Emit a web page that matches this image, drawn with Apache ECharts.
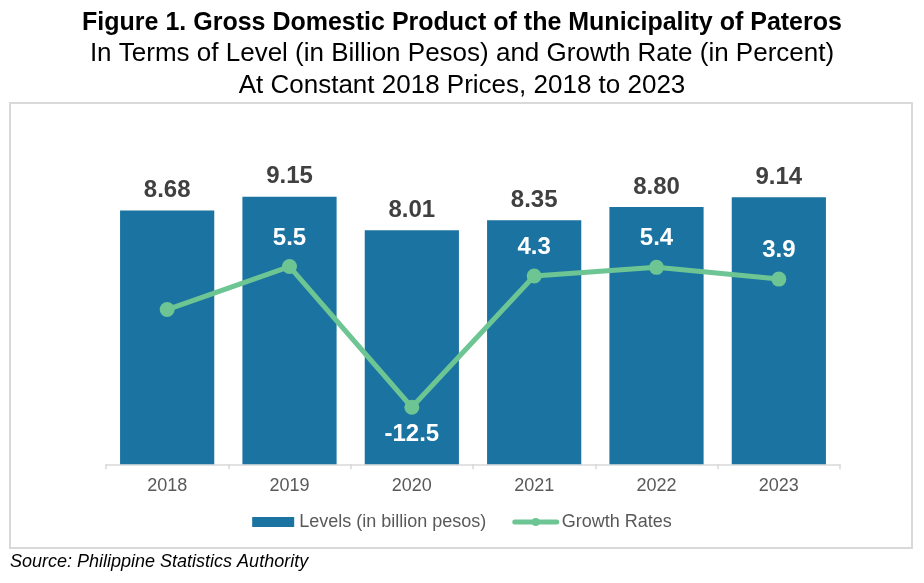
<!DOCTYPE html>
<html>
<head>
<meta charset="utf-8">
<script src="https://cdn.jsdelivr.net/npm/echarts@6/dist/echarts.min.js"></script>
<style>
html,body{margin:0;padding:0;background:#fff;}
#c{width:924px;height:583px;}
</style>
</head>
<body>
<div id="c"></div>
<script>
var years = ['2018', '2019', '2020', '2021', '2022', '2023'];
var levels = [8.68, 9.15, 8.01, 8.35, 8.80, 9.14];
var growth = [0, 5.5, -12.5, 4.3, 5.4, 3.9];
var showGrowthLabel = [false, true, true, true, true, true];

var FONT = '"Liberation Sans", Arial, sans-serif';
var chart = echarts.init(document.getElementById('c'), null, {renderer: 'canvas'});

var growthData = growth.map(function (v, i) {
  var item = {value: v};
  if (!showGrowthLabel[i]) {
    item.label = {show: false};
  } else if (v < 0) {
    item.label = {position: 'bottom', distance: 8};
  }
  return item;
});

chart.setOption({
  animation: false,
  backgroundColor: '#ffffff',
  title: [
    {text: 'Figure 1. Gross Domestic Product of the Municipality of Pateros', left: 'center', top: 6,
     textStyle: {fontFamily: FONT, fontSize: 25, fontWeight: 'bold', color: '#000'}},
    {text: 'In Terms of Level (in Billion Pesos) and Growth Rate (in Percent)', left: 'center', top: 36,
     textStyle: {fontFamily: FONT, fontSize: 26, fontWeight: 'normal', color: '#000'}},
    {text: 'At Constant 2018 Prices, 2018 to 2023', left: 'center', top: 68,
     textStyle: {fontFamily: FONT, fontSize: 26, fontWeight: 'normal', color: '#000'}}
  ],
  graphic: [
    {type: 'rect', shape: {x: 10, y: 103, width: 902, height: 445},
     style: {fill: 'none', stroke: '#d9d9d9', lineWidth: 2}, z: -1},
    {type: 'text', left: 10, top: 553,
     style: {text: 'Source: Philippine Statistics Authority', font: 'italic 18px ' + FONT, fill: '#000'}}
  ],
  legend: {
    left: 'center', top: 508,
    itemWidth: 42, itemHeight: 10, itemGap: 26,
    textStyle: {fontFamily: FONT, fontSize: 18, color: '#595959'},
    data: [
      {name: 'Levels (in billion pesos)', icon: 'rect'},
      {name: 'Growth Rates', lineStyle: {width: 5, cap: 'round'}}
    ]
  },
  grid: {left: 106, right: 84, top: 172, bottom: 118.7},
  xAxis: {
    type: 'category', data: years,
    axisLine: {lineStyle: {color: '#d9d9d9', width: 1.5}},
    axisTick: {show: true, length: 5, lineStyle: {color: '#d9d9d9', width: 1.5}},
    axisLabel: {fontFamily: FONT, fontSize: 18, color: '#595959', margin: 13}
  },
  yAxis: [
    {type: 'value', min: 0, max: 10, show: false, splitLine: {show: false}},
    {type: 'value', min: -19.8, max: 17.6, show: false, splitLine: {show: false}}
  ],
  series: [
    {
      name: 'Levels (in billion pesos)', type: 'bar', data: levels,
      barCategoryGap: '23%',
      itemStyle: {color: '#1a73a0'},
      label: {show: true, position: 'top', distance: 8,
        formatter: function (p) { return p.value.toFixed(2); },
        fontFamily: FONT, fontSize: 24, fontWeight: 'bold', color: '#404040'}
    },
    {
      name: 'Growth Rates', type: 'line', yAxisIndex: 1, data: growthData,
      symbol: 'circle', symbolSize: 15,
      lineStyle: {color: '#6cc593', width: 5},
      itemStyle: {color: '#6cc593'},
      label: {show: true, position: 'top', distance: 9,
        formatter: function (p) { return p.value.toFixed(1); },
        fontFamily: FONT, fontSize: 24, fontWeight: 'bold', color: '#ffffff'},
      z: 3
    }
  ]
});
</script>
</body>
</html>
